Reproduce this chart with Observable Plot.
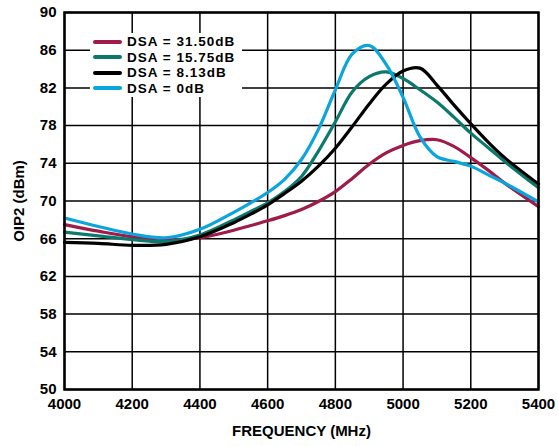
<!DOCTYPE html>
<html>
<head>
<meta charset="utf-8">
<script src="https://cdn.jsdelivr.net/npm/d3@7"></script>
<script src="https://cdn.jsdelivr.net/npm/@observablehq/plot@0.6"></script>
<style>
  html, body { margin: 0; padding: 0; background: #fff; }
  #wrap { position: relative; width: 558px; height: 446px; font-family: "Liberation Sans", Arial, sans-serif; }
  #legend { position: absolute; left: 90px; top: 33px; width: 152px; height: 64px; background: #fff; }
  .row { position: absolute; left: 0; height: 15px; line-height: 15px; display: flex; align-items: center; font-weight: bold; font-size: 13.5px; letter-spacing: 1px; color: #000; white-space: nowrap; }
  .sw { width: 29px; height: 4px; margin-left: 3px; margin-right: 5px; border-radius: 2px; }
</style>
</head>
<body>
<div id="wrap"><div id="legend"></div></div>
<script>
const freq  = [4000,4100,4200,4300,4400,4500,4550,4600,4650,4700,4750,4800,4850,4900,4950,5000,5050,5100,5150,5200,5250,5300,5400];
const dsa31 = [67.5,66.8,66.2,65.9,66.1,66.9,67.4,67.9,68.45,69.1,69.95,71.0,72.4,73.9,75.1,75.9,76.4,76.5,75.8,74.6,73.3,71.9,69.4];
const dsa15 = [66.7,66.3,65.9,65.7,66.4,68.0,68.9,69.8,71.0,72.6,75.3,78.4,81.6,83.2,83.7,83.0,81.8,80.5,78.9,77.2,75.7,74.2,71.4];
const dsa8  = [65.6,65.5,65.3,65.4,66.2,67.7,68.6,69.6,70.8,72.1,73.7,75.6,77.9,80.3,82.4,83.8,84.1,82.3,80.2,78.2,76.3,74.6,71.8];
const dsa0  = [68.2,67.3,66.5,66.1,67.0,68.8,69.8,70.9,72.3,74.4,77.6,81.8,85.6,86.5,84.5,81.0,76.8,74.7,74.2,73.7,72.8,71.9,69.9];
const seriesNames = ["DSA = 31.50dB","DSA = 15.75dB","DSA = 8.13dB","DSA = 0dB"];
const seriesColors = ["#9e1b4a","#0b7a6d","#000000","#0aa5dc"];
const xTicks = [4000,4200,4400,4600,4800,5000,5200,5400];
const yTicks = [50,54,58,62,66,70,74,78,82,86,90];

const seriesValues = [dsa31, dsa15, dsa8, dsa0];
const rows = [];
seriesValues.forEach((arr, i) => arr.forEach((v, j) => rows.push({f: freq[j], v, s: seriesNames[i]})));

const chart = Plot.plot({
  width: 558, height: 446,
  marginLeft: 64, marginRight: 20, marginTop: 12, marginBottom: 57,
  x: {domain: [4000, 5400]},
  y: {domain: [50, 90]},
  color: {domain: seriesNames, range: seriesColors},
  style: {fontFamily: "'Liberation Sans', Arial, sans-serif", fontWeight: "bold", fontSize: "15px", color: "#000", background: "#fff"},
  marks: [
    Plot.gridX(xTicks, {stroke: "#000", strokeOpacity: 1, strokeWidth: 1.5}),
    Plot.gridY(yTicks, {stroke: "#000", strokeOpacity: 1, strokeWidth: 1.5}),
    Plot.line(rows, {x: "f", y: "v", z: "s", stroke: "s", strokeWidth: 3.2, curve: "catmull-rom"}),
    Plot.frame({stroke: "#000", strokeWidth: 2.5}),
    Plot.axisX(xTicks, {tickSize: 0, tickPadding: 9, tickFormat: d => String(d), label: "FREQUENCY (MHz)", labelAnchor: "center", labelArrow: "none", labelOffset: 46}),
    Plot.axisY(yTicks, {tickSize: 0, tickPadding: 8, tickFormat: d => String(d), label: "OIP2 (dBm)", labelAnchor: "center", labelArrow: "none", labelOffset: 51})
  ]
});
const wrap = document.getElementById("wrap");
wrap.insertBefore(chart, wrap.firstChild);

const legend = document.getElementById("legend");
const rowTops = [1, 16.5, 32, 47.5];
seriesNames.forEach((name, i) => {
  const r = document.createElement("div");
  r.className = "row";
  r.style.top = rowTops[i] + "px";
  const sw = document.createElement("span");
  sw.className = "sw";
  sw.style.background = seriesColors[i];
  const t = document.createElement("span");
  t.textContent = name;
  r.appendChild(sw); r.appendChild(t);
  legend.appendChild(r);
});
</script>
</body>
</html>
